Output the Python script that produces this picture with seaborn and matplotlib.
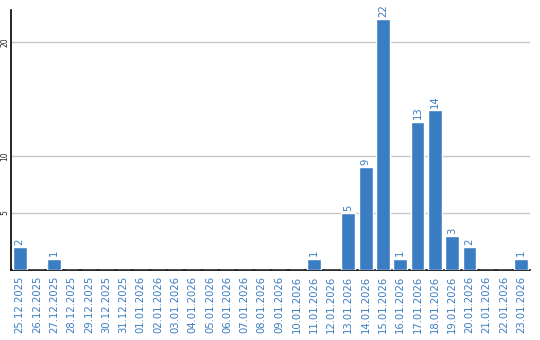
import matplotlib
matplotlib.use("Agg")
import matplotlib.pyplot as plt
import seaborn as sns
import pandas as pd

dates = ["25.12.2025", "26.12.2025", "27.12.2025", "28.12.2025", "29.12.2025",
         "30.12.2025", "31.12.2025", "01.01.2026", "02.01.2026", "03.01.2026",
         "04.01.2026", "05.01.2026", "06.01.2026", "07.01.2026", "08.01.2026",
         "09.01.2026", "10.01.2026", "11.01.2026", "12.01.2026", "13.01.2026",
         "14.01.2026", "15.01.2026", "16.01.2026", "17.01.2026", "18.01.2026",
         "19.01.2026", "20.01.2026", "21.01.2026", "22.01.2026", "23.01.2026"]
values = [2, 0, 1, 0, 0, 0, 0, 0, 0, 0,
          0, 0, 0, 0, 0, 0, 0, 1, 0, 5,
          9, 22, 1, 13, 14, 3, 2, 0, 0, 1]
y_ticks = [5, 10, 20]

blue = "#3a7dc2"
df = pd.DataFrame({"date": dates, "value": values})

sns.set_style("white")
fig = plt.figure(figsize=(5.4, 3.4), dpi=100)
ax = fig.add_axes([11/540, 70/340, 519/540, 260/340])
sns.barplot(data=df, x="date", y="value", color=blue, saturation=1, width=0.8, ax=ax, zorder=3)

ax.set_ylim(0, 22.8)
ax.set_xlim(-0.5, len(dates) - 0.5)
ax.set_yticks(y_ticks)
ax.set_yticklabels([str(t) for t in y_ticks], rotation=90, fontsize=5.5, va="center")
ax.yaxis.grid(True, color="#c8c8c8", linewidth=1, zorder=0)
ax.set_axisbelow(True)
ax.tick_params(axis="y", length=0, pad=1)
ax.tick_params(axis="x", length=0, pad=4)
ax.set_xticks(range(len(dates)))
ax.set_xticklabels(dates, rotation=90, fontsize=7.2, color=blue)
ax.set_xlabel("")
ax.set_ylabel("")
for s in ["top", "right"]:
    ax.spines[s].set_visible(False)
ax.spines["left"].set_color("black")
ax.spines["bottom"].set_color("black")
ax.spines["left"].set_linewidth(1.2)
ax.spines["bottom"].set_linewidth(1.2)

for i, v in enumerate(values):
    if v > 0:
        ax.text(i, v + 0.2, str(v), rotation=90, ha="center", va="bottom",
                fontsize=7.2, color=blue)

fig.savefig("out.png", dpi=100)
